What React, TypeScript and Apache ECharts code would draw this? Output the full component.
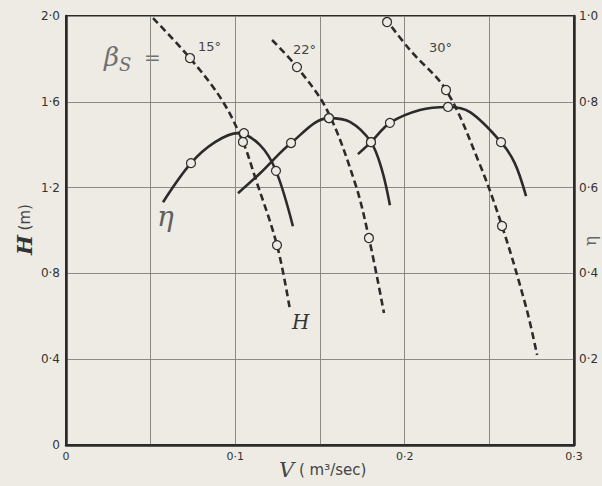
import React, { useEffect, useRef } from "react";
import * as echarts from "echarts";

// Head H (m) curves, left axis, dashed
const head15 = [[0.0514, 1.99], [0.0732, 1.804], [0.0921, 1.608], [0.1045, 1.413], [0.1118, 1.245], [0.1246, 0.932], [0.1323, 0.629]];
const head22 = [[0.1217, 1.888], [0.1364, 1.762], [0.1541, 1.562], [0.1707, 1.221], [0.1789, 0.965], [0.1878, 0.615]];
const head30 = [[0.1884, 1.99], [0.2032, 1.841], [0.2244, 1.655], [0.2433, 1.329], [0.2575, 1.021], [0.2717, 0.643], [0.2782, 0.42]];
const headPts15 = [[0.0732, 1.804], [0.1045, 1.413], [0.1246, 0.932]];
const headPts22 = [[0.1364, 1.762], [0.1553, 1.524], [0.1789, 0.965]];
const headPts30 = [[0.1896, 1.972], [0.2244, 1.655], [0.2575, 1.021]];

// Efficiency eta curves, right axis, solid
const eta15 = [[0.0573, 0.566], [0.0738, 0.657], [0.088, 0.706], [0.1016, 0.727], [0.1146, 0.699], [0.124, 0.639], [0.134, 0.51]];
const eta22 = [[0.1016, 0.587], [0.1148, 0.634], [0.1329, 0.704], [0.1553, 0.762], [0.1677, 0.753], [0.1801, 0.706], [0.1866, 0.641], [0.1913, 0.559]];
const eta30 = [[0.1724, 0.678], [0.1801, 0.706], [0.1913, 0.751], [0.209, 0.781], [0.2256, 0.788], [0.2386, 0.776], [0.2569, 0.706], [0.265, 0.657], [0.2717, 0.58]];
const etaPts15 = [[0.0738, 0.657], [0.1051, 0.727], [0.124, 0.639]];
const etaPts22 = [[0.1329, 0.704], [0.1553, 0.762], [0.1801, 0.706]];
const etaPts30 = [[0.1801, 0.706], [0.1913, 0.751], [0.2256, 0.788], [0.2569, 0.706]];

const bladeAngles = ["15°", "22°", "30°"];

const PAPER = "#eeebe4";
const INK = "#2b2b2b";

const dotLabel = (v: number, digits: number) =>
  v === 0 ? "0" : v.toFixed(digits).replace(".", "·");

export default function App() {
  const ref = useRef<HTMLDivElement>(null);
  useEffect(() => {
    if (!ref.current) return;
    const chart = echarts.init(ref.current, undefined, { renderer: "svg" });
    const headLine = (data: number[][]) => ({
      type: "line",
      xAxisIndex: 0,
      yAxisIndex: 0,
      data,
      smooth: 0.35,
      showSymbol: false,
      lineStyle: { color: INK, width: 2.6, type: [7, 4] },
      z: 3,
    });
    const etaLine = (data: number[][]) => ({
      type: "line",
      xAxisIndex: 0,
      yAxisIndex: 1,
      data,
      smooth: 0.35,
      showSymbol: false,
      lineStyle: { color: INK, width: 2.6 },
      z: 3,
    });
    const pts = (data: number[][], axis: number) => ({
      type: "scatter",
      xAxisIndex: 0,
      yAxisIndex: axis,
      data,
      symbol: "circle",
      symbolSize: 9,
      itemStyle: { color: PAPER, borderColor: INK, borderWidth: 1.2, opacity: 1 },
      z: 5,
    });
    const tickFont = { color: "#333", fontSize: 12, fontFamily: "DejaVu Sans" };
    chart.setOption({
      animation: false,
      backgroundColor: PAPER,
      grid: {
        left: 66,
        right: 28,
        top: 16,
        bottom: 41,
        show: true,
        borderColor: INK,
        borderWidth: 2,
      },
      xAxis: {
        type: "value",
        min: 0,
        max: 0.3,
        interval: 0.05,
        axisLine: { show: true, lineStyle: { color: INK, width: 2.5 } },
        axisTick: { show: false },
        splitLine: { show: true, lineStyle: { color: "#8c8a86", width: 1 } },
        axisLabel: {
          ...tickFont,
          fontSize: 11,
          margin: 6,
          formatter: (v: number) => {
            const k = Math.round(v * 100);
            return k % 10 === 0 ? dotLabel(v, 1) : "";
          },
        },
      },
      yAxis: [
        {
          type: "value",
          min: 0,
          max: 2,
          interval: 0.4,
          axisLine: { show: true, lineStyle: { color: INK, width: 2.5 } },
          axisTick: { show: false },
          splitLine: { show: true, lineStyle: { color: "#8c8a86", width: 1 } },
          axisLabel: { ...tickFont, margin: 6, formatter: (v: number) => dotLabel(v, 1) },
        },
        {
          type: "value",
          min: 0,
          max: 1,
          interval: 0.2,
          position: "right",
          axisLine: { show: true, lineStyle: { color: INK, width: 2.5 } },
          axisTick: { show: false },
          splitLine: { show: false },
          axisLabel: {
            ...tickFont,
            margin: 5,
            formatter: (v: number) => (v === 0 ? "" : dotLabel(v, 1)),
          },
        },
      ],
      graphic: [
        {
          type: "text",
          left: 104,
          top: 44,
          style: {
            text: "{b|β}{s|S}{e|  =}",
            rich: {
              b: { fontFamily: "DejaVu Serif", fontStyle: "italic", fontSize: 26, fill: "#6f6f6f" },
              s: { fontFamily: "DejaVu Serif", fontStyle: "italic", fontSize: 18, fill: "#6f6f6f", padding: [14, 0, 0, 0] },
              e: { fontFamily: "DejaVu Sans", fontSize: 20, fill: "#6f6f6f" },
            },
          },
        },
        { type: "text", left: 198, top: 40, style: { text: bladeAngles[0], fontFamily: "DejaVu Sans", fontSize: 13, fill: "#444" } },
        { type: "text", left: 293, top: 43, style: { text: bladeAngles[1], fontFamily: "DejaVu Sans", fontSize: 13, fill: "#444" } },
        { type: "text", left: 429, top: 41, style: { text: bladeAngles[2], fontFamily: "DejaVu Sans", fontSize: 13, fill: "#444" } },
        {
          type: "text",
          left: 157,
          top: 202,
          style: { text: "η", fontFamily: "DejaVu Serif", fontStyle: "italic", fontSize: 28, fill: "#5f5f5f" },
        },
        {
          type: "text",
          left: 292,
          top: 312,
          style: { text: "H", fontFamily: "DejaVu Serif", fontStyle: "italic", fontSize: 20, fill: "#333" },
        },
        {
          type: "text",
          x: 14,
          y: 255,
          rotation: Math.PI / 2,
          style: {
            text: "{h|H}{m| (m)}",
            rich: {
              h: { fontFamily: "DejaVu Serif", fontStyle: "italic", fontWeight: "bold", fontSize: 21, fill: "#333" },
              m: { fontFamily: "DejaVu Sans", fontSize: 15, fill: "#444" },
            },
          },
        },
        {
          type: "text",
          x: 581,
          y: 246,
          rotation: Math.PI / 2,
          style: { text: "η", fontFamily: "DejaVu Serif", fontSize: 17, fill: "#666" },
        },
        {
          type: "text",
          left: 279,
          top: 459,
          style: {
            text: "{v|V}{u| ( m³/sec)}",
            rich: {
              v: { fontFamily: "DejaVu Serif", fontStyle: "italic", fontSize: 21, fill: "#444" },
              u: { fontFamily: "DejaVu Sans", fontSize: 15, fill: "#444" },
            },
          },
        },
      ],
      series: [
        headLine(head15),
        headLine(head22),
        headLine(head30),
        etaLine(eta15),
        etaLine(eta22),
        etaLine(eta30),
        pts(headPts15, 0),
        pts(headPts22, 0),
        pts(headPts30, 0),
        pts(etaPts15, 1),
        pts(etaPts22, 1),
        pts(etaPts30, 1),
      ],
    });
    return () => chart.dispose();
  }, []);
  return (
    <div
      ref={ref}
      style={{ position: "fixed", left: 0, top: 0, width: 602, height: 486 }}
    />
  );
}
